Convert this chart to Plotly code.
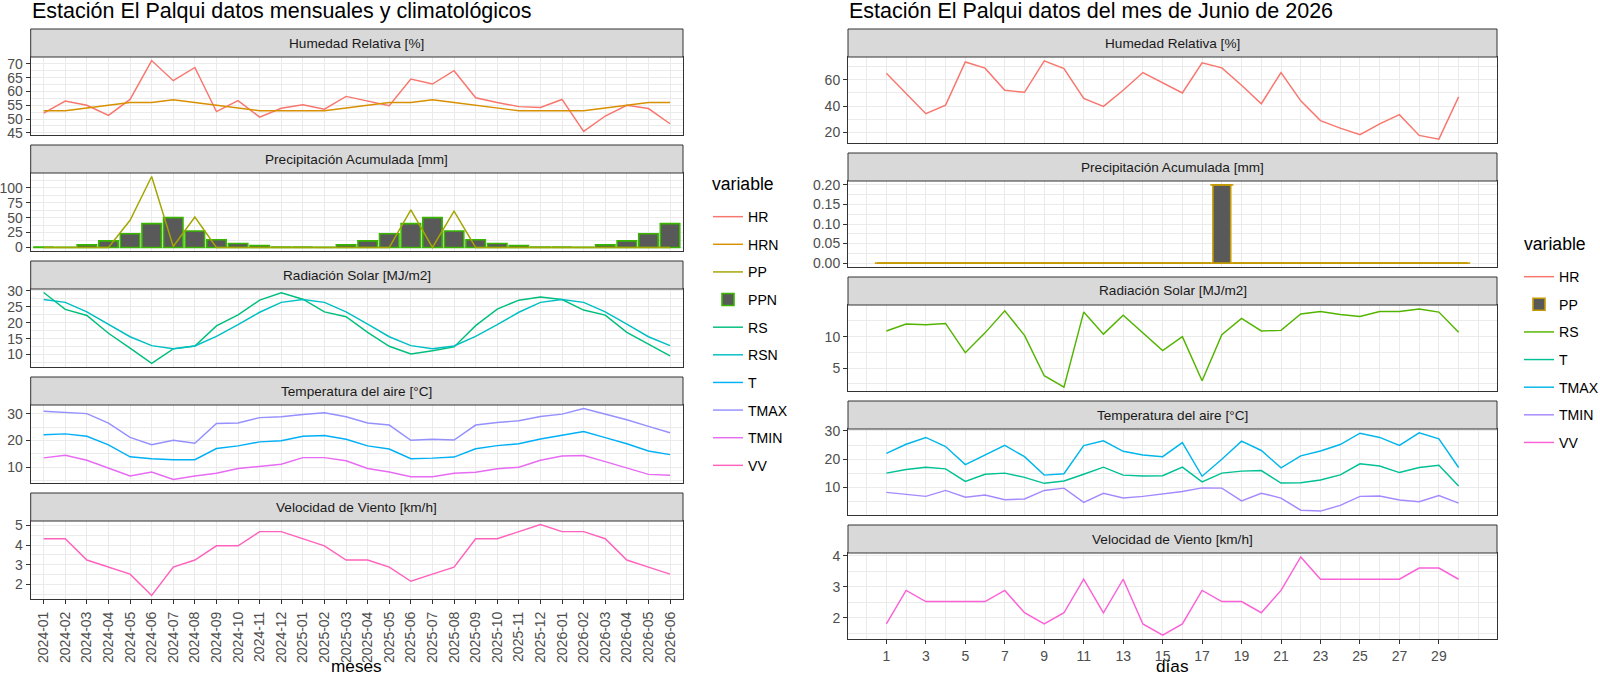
import plotly.graph_objects as go

# ---- datos mensuales y climatológicos (2024-01 .. 2026-06) ----
meses = [
    "2024-01", "2024-02", "2024-03", "2024-04", "2024-05", "2024-06",
    "2024-07", "2024-08", "2024-09", "2024-10", "2024-11", "2024-12",
    "2025-01", "2025-02", "2025-03", "2025-04", "2025-05", "2025-06",
    "2025-07", "2025-08", "2025-09", "2025-10", "2025-11", "2025-12",
    "2026-01", "2026-02", "2026-03", "2026-04", "2026-05", "2026-06",
]
hr_m = [52.1, 56.5, 55.0, 51.3, 57.1, 71.2, 63.9, 68.7, 52.7, 56.7, 50.7, 53.9,
        55.2, 53.6, 58.2, 56.5, 54.8, 64.5, 62.7, 67.5, 57.7, 56.0, 54.5, 54.2,
        57.1, 45.5, 51.1, 55.0, 53.8, 48.3]
hrn_m = [53, 53, 54, 55, 56, 56, 57, 56, 55, 54, 53, 53,
         53, 53, 54, 55, 56, 56, 57, 56, 55, 54, 53, 53,
         53, 53, 54, 55, 56, 56]
pp_m = [0, 0, 0, 0, 45.6, 119, 1.6, 51, 0, 0, 0, 0,
        0, 0, 0, 0, 0, 63, 0, 61, 0, 0, 0, 0,
        0, 0, 0, 0, 0, 0]
ppn_m = [0.8, 0.3, 4.4, 11, 23, 40, 50, 27.5, 13, 6.6, 3.3, 0.6,
         0.8, 0.3, 4.4, 11, 23, 40, 50, 27.5, 13, 6.6, 3.3, 0.6,
         0.8, 0.3, 4.4, 11, 23, 40]
rs_m = [29.5, 24.2, 22.3, 16.7, 12.0, 7.2, 11.8, 12.7, 19.0, 22.5, 27.1, 29.4,
        27.4, 23.4, 21.9, 17.0, 12.6, 10.2, 11.2, 12.4, 19.1, 24.3, 27.1, 28.1,
        27.3, 24.0, 22.4, 17.0, 13.3, 9.6]
rsn_m = [27.3, 26.4, 23.4, 19.6, 15.6, 12.8, 11.8, 12.7, 15.7, 19.4, 23.3, 26.4,
         27.3, 26.4, 23.4, 19.6, 15.6, 12.8, 11.8, 12.7, 15.7, 19.4, 23.3, 26.4,
         27.3, 26.4, 23.4, 19.6, 15.6, 12.8]
t_m = [22.2, 22.5, 21.6, 18.4, 13.9, 13.2, 12.8, 12.8, 17.0, 18.0, 19.5, 19.9,
       21.6, 21.9, 20.5, 18.0, 16.8, 13.2, 13.4, 13.8, 16.9, 18.1, 18.8, 20.6,
       22.0, 23.4, 21.1, 18.8, 16.1, 14.7]
tmax_m = [31.0, 30.6, 30.1, 26.5, 21.2, 18.4, 20.1, 19.0, 26.4, 26.6, 28.6, 28.9,
          29.8, 30.4, 28.9, 26.6, 25.8, 20.1, 20.5, 20.2, 25.8, 26.8, 27.4, 29.0,
          29.9, 32.0, 29.8, 27.8, 25.3, 22.9]
tmin_m = [13.5, 14.5, 12.6, 9.8, 6.7, 8.2, 5.4, 6.7, 7.7, 9.5, 10.2, 11.1,
          13.6, 13.6, 12.4, 9.5, 8.2, 6.4, 6.4, 7.7, 8.1, 9.4, 10.0, 12.6,
          14.2, 14.4, 12.1, 9.8, 7.3, 7.0]
vv_m = [4.32, 4.32, 3.24, 2.88, 2.52, 1.44, 2.88, 3.24, 3.96, 3.96, 4.68, 4.68,
        4.32, 3.96, 3.24, 3.24, 2.88, 2.16, 2.52, 2.88, 4.32, 4.32, 4.68, 5.04,
        4.68, 4.68, 4.32, 3.24, 2.88, 2.52]

# ---- datos diarios, Junio 2026 ----
dias = [1, 2, 3, 4, 5, 6, 7, 8, 9, 10, 11, 12, 13, 14, 15,
        16, 17, 18, 19, 20, 21, 22, 23, 24, 25, 26, 27, 28, 29, 30]
hr_d = [65, 49.5, 34.3, 40.8, 73.5, 68.8, 52, 50.5, 74.3, 68.5, 45.8, 39.8, 52, 65.5, 57.8,
        50, 72.8, 69, 55.8, 41.8, 65.5, 44, 29, 23.3, 18.3, 26.5, 33.5, 17.8, 15, 47]
pp_d = [0, 0, 0, 0, 0, 0, 0, 0, 0, 0, 0, 0, 0, 0, 0,
        0, 0, 0.2, 0, 0, 0, 0, 0, 0, 0, 0, 0, 0, 0, 0]
rs_d = [10.9, 12, 11.9, 12.1, 7.45, 10.6, 14.1, 10.2, 3.8, 2, 13.9, 10.4, 13.4, 10.6, 7.8,
        10, 3, 10.3, 12.9, 10.9, 11, 13.6, 14, 13.5, 13.2, 14, 14, 14.4, 13.9, 10.7]
t_d = [15.1, 16.4, 17.2, 16.6, 12.2, 14.7, 15.1, 13.6, 11.5, 12.3, 14.7, 17.2, 14.4, 14.1, 14.2,
       17.2, 12, 15.1, 15.8, 16, 11.6, 11.7, 12.7, 14.5, 18.4, 17.6, 15.3, 17.1, 17.9, 10.6]
tmax_d = [22.1, 25.3, 27.7, 24.5, 18.1, 21.4, 24.9, 20.9, 14.4, 14.9, 24.8, 26.5, 22.8, 21.5, 20.9,
          25.9, 14, 20, 26.4, 23.1, 17, 21.2, 22.9, 25.2, 29.2, 27.7, 24.9, 29.3, 27.2, 17.1]
tmin_d = [8.3, 7.7, 6.9, 9, 6.6, 7.4, 5.7, 6, 9, 9.8, 4.8, 8, 6.3, 6.9, 7.7,
          8.6, 9.9, 9.8, 5.3, 8, 6.3, 2, 1.7, 3.7, 6.9, 7, 5.6, 5, 7.2, 4.5]
vv_d = [1.8, 2.88, 2.52, 2.52, 2.52, 2.52, 2.88, 2.16, 1.8, 2.16, 3.24, 2.16, 3.24, 1.8, 1.44,
        1.8, 2.88, 2.52, 2.52, 2.16, 2.88, 3.96, 3.24, 3.24, 3.24, 3.24, 3.24, 3.6, 3.6, 3.24]
dias_ticks = [1, 3, 5, 7, 9, 11, 13, 15, 17, 19, 21, 23, 25, 27, 29]

facetas = ["Humedad Relativa [%]", "Precipitación Acumulada [mm]",
           "Radiación Solar [MJ/m2]", "Temperatura del aire [°C]",
           "Velocidad de Viento [km/h]"]

# ticks del eje y por faceta
yticks_m = [[45, 50, 55, 60, 65, 70], [0, 25, 50, 75, 100], [10, 15, 20, 25, 30],
            [10, 20, 30], [2, 3, 4, 5]]
yticks_d = [[20, 40, 60], [0, 0.05, 0.10, 0.15, 0.20], [5, 10], [10, 20, 30], [2, 3, 4]]

# colores (paleta hue de ggplot)
col_m = {"HR": "#F8766D", "HRN": "#D89000", "PP": "#A3A500", "PPN": "#39B600",
         "RS": "#00BF7D", "RSN": "#00BFC4", "T": "#00B0F6", "TMAX": "#9590FF",
         "TMIN": "#E76BF3", "VV": "#FF62BC"}
col_d = {"HR": "#F8766D", "PP": "#C49A00", "RS": "#53B400", "T": "#00C094",
         "TMAX": "#00B6EB", "TMIN": "#A58AFF", "VV": "#FB61D7"}

W, H = 1600, 676
FONT = "Liberation Sans, Arial, sans-serif"
GRID = "#EBEBEB"
DARK = "#333333"
F_TICK = 14
F_STRIP = 13.6
F_LEG = 14.1
F_MID = 17.2
F_TITLE = 21.5


def fx(x):
    return x / W


def fy(y):
    return 1 - y / H


def yrange(series, zero=False):
    vals = [v for s in series for v in s]
    lo, hi = min(vals), max(vals)
    if zero:
        lo = min(lo, 0)
    pad = (hi - lo) * 0.05
    return [lo - pad, hi + pad]


left_x = (30.7, 683)
right_x = (848, 1497)
left_rows = [(29 + 116 * i, 57 + 116 * i, 135 + 116 * i) for i in range(5)]
right_rows = [(29 + 124 * i, 57 + 124 * i, 143 + 124 * i) for i in range(5)]

fig = go.Figure()


def ax(n, letter):
    return letter if n == 1 else f"{letter}{n}"


def line(x, y, name, color, n, legend):
    fig.add_trace(go.Scatter(
        x=x, y=y, mode="lines", name=name, line=dict(color=color, width=1.45),
        xaxis=ax(n, "x"), yaxis=ax(n, "y"), legend=legend, legendgroup=legend + name,
        hoverinfo="skip"))


def bars(x, y, name, color, n, legend, cap=None):
    fig.add_trace(go.Bar(
        x=x, y=y, name=name, width=0.9,
        marker=dict(color="#595959", line=dict(color=color, width=1.6)),
        xaxis=ax(n, "x"), yaxis=ax(n, "y"), legend=legend, legendgroup=legend + name,
        hoverinfo="skip"))
    if cap:
        # contorno visible para barras de altura cero
        fig.add_trace(go.Scatter(
            x=x, y=y, mode="markers", showlegend=False, hoverinfo="skip",
            marker=dict(symbol="line-ew", size=cap, line=dict(color=color, width=1.6)),
            xaxis=ax(n, "x"), yaxis=ax(n, "y"), legend=legend))


# panel mensual (ejes 1-5), en el orden de la leyenda
line(meses, hr_m, "HR", col_m["HR"], 1, "legend")
line(meses, hrn_m, "HRN", col_m["HRN"], 1, "legend")
line(meses, pp_m, "PP", col_m["PP"], 2, "legend")
bars(meses, ppn_m, "PPN", col_m["PPN"], 2, "legend")
line(meses, rs_m, "RS", col_m["RS"], 3, "legend")
line(meses, rsn_m, "RSN", col_m["RSN"], 3, "legend")
line(meses, t_m, "T", col_m["T"], 4, "legend")
line(meses, tmax_m, "TMAX", col_m["TMAX"], 4, "legend")
line(meses, tmin_m, "TMIN", col_m["TMIN"], 4, "legend")
line(meses, vv_m, "VV", col_m["VV"], 5, "legend")

# panel diario (ejes 6-10)
line(dias, hr_d, "HR", col_d["HR"], 6, "legend2")
bars(dias, pp_d, "PP", col_d["PP"], 7, "legend2", cap=16.5)
line(dias, rs_d, "RS", col_d["RS"], 8, "legend2")
line(dias, t_d, "T", col_d["T"], 9, "legend2")
line(dias, tmax_d, "TMAX", col_d["TMAX"], 9, "legend2")
line(dias, tmin_d, "TMIN", col_d["TMIN"], 9, "legend2")
line(dias, vv_d, "VV", col_d["VV"], 10, "legend2")

ranges_m = [yrange([hr_m, hrn_m]), yrange([pp_m, ppn_m], True), yrange([rs_m, rsn_m]),
            yrange([t_m, tmax_m, tmin_m]), yrange([vv_m])]
ranges_d = [yrange([hr_d]), yrange([pp_d], True), yrange([rs_d]),
            yrange([t_d, tmax_d, tmin_d]), yrange([vv_d])]

base = dict(showline=True, mirror=True, linecolor=DARK, linewidth=1,
            showgrid=True, gridcolor=GRID, gridwidth=1.1, zeroline=False,
            tickfont=dict(family=FONT, size=F_TICK, color="#4D4D4D"),
            ticks="outside", ticklen=4, tickcolor=DARK, tickwidth=1)

layout_axes = {}
shapes = []
annotations = []

dx_lo = min(dias) - 0.45
dx_hi = max(dias) + 0.45
dpad = (dx_hi - dx_lo) * 0.05

for col, (xs, rows, ticks_list, ranges) in enumerate(
        [(left_x, left_rows, yticks_m, ranges_m), (right_x, right_rows, yticks_d, ranges_d)]):
    for i in range(5):
        n = i + 1 + 5 * col
        s_top, p_top, p_bot = rows[i]
        bottom = i == 4
        xa = dict(base, domain=[fx(xs[0]), fx(xs[1])], anchor=ax(n, "y"),
                  showticklabels=bottom, ticks="outside" if bottom else "")
        if col == 0:
            xa.update(type="category", categoryorder="array", categoryarray=meses,
                      range=[-0.6, len(meses) - 0.4], tickangle=-90, ticklabelstandoff=2)
        else:
            xa.update(range=[dx_lo - dpad, dx_hi + dpad], tickmode="array",
                      tickvals=dias_ticks, tickangle=0,
                      minor=dict(tickmode="linear", tick0=0, dtick=1, showgrid=True,
                                 gridcolor=GRID, gridwidth=0.6, ticks=""))
        if n not in (1, 6):
            xa["matches"] = "x" if col == 0 else "x6"
        tk = ticks_list[i]
        step = tk[1] - tk[0]
        ya = dict(base, domain=[fy(p_bot), fy(p_top)], anchor=ax(n, "x"),
                  range=ranges[i], tickmode="array", tickvals=tk,
                  minor=dict(tickmode="linear", tick0=tk[0], dtick=step / 2,
                             showgrid=True, gridcolor=GRID, gridwidth=0.6, ticks=""))
        if col == 1 and i == 1:
            ya["tickformat"] = ".2f"
        layout_axes["xaxis" if n == 1 else f"xaxis{n}"] = xa
        layout_axes["yaxis" if n == 1 else f"yaxis{n}"] = ya

        shapes.append(dict(type="rect", xref="paper", yref="paper",
                           x0=fx(xs[0]), x1=fx(xs[1]), y0=fy(p_top), y1=fy(s_top),
                           fillcolor="#D9D9D9", line=dict(color=DARK, width=1), layer="above"))
        annotations.append(dict(text=facetas[i], xref="paper", yref="paper",
                                x=fx((xs[0] + xs[1]) / 2), y=fy((s_top + p_top) / 2),
                                xanchor="center", yanchor="middle", showarrow=False,
                                font=dict(family=FONT, size=F_STRIP, color="#1A1A1A")))


def text(t, x, y, size, xanchor="left"):
    annotations.append(dict(text=t, xref="paper", yref="paper", x=fx(x), y=fy(y),
                            xanchor=xanchor, yanchor="middle", showarrow=False,
                            font=dict(family=FONT, size=size, color="black")))


text("Estación El Palqui datos mensuales y climatológicos", left_x[0] - 1, 11, F_TITLE)
text("Estación El Palqui datos del mes de Junio de 2026", right_x[0] - 1, 11, F_TITLE)
text("meses", (left_x[0] + left_x[1]) / 2, 665.5, F_MID, "center")
text("días", (right_x[0] + right_x[1]) / 2, 665.5, F_MID, "center")
text("variable", 710, 184, 17.6)
text("variable", 1522, 244, 17.6)

leg = dict(xanchor="left", yanchor="top", bgcolor="rgba(0,0,0,0)", borderwidth=0,
           font=dict(family=FONT, size=F_LEG, color="black"), tracegroupgap=6.3,
           itemwidth=30)

fig.update_layout(
    width=W, height=H,
    margin=dict(l=0, r=0, t=0, b=0, autoexpand=False),
    paper_bgcolor="white", plot_bgcolor="white",
    font=dict(family=FONT),
    showlegend=True,
    barmode="overlay",
    shapes=shapes,
    annotations=annotations,
    legend=dict(leg, x=fx(708), y=fy(201)),
    legend2=dict(leg, x=fx(1519), y=fy(261)),
    **layout_axes,
)

# sin margen del <body> para que la figura ocupe la ventana exacta
fig.write_html("out.html", config={"displayModeBar": False},
               post_script="document.body.style.margin='0';document.body.style.overflow='hidden';")
